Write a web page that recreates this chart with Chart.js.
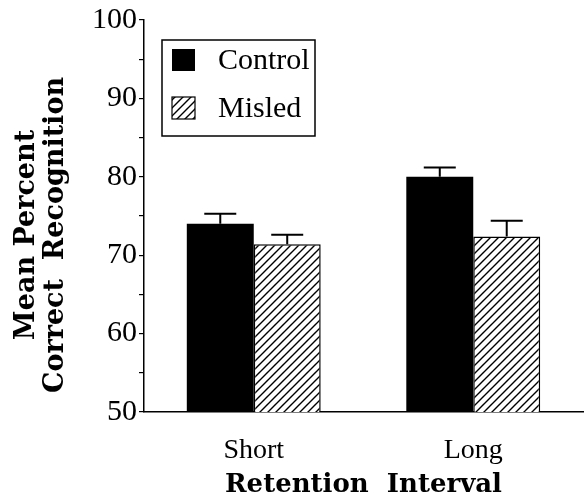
<!DOCTYPE html>
<html>
<head>
<meta charset="utf-8">
<script src="https://cdn.jsdelivr.net/npm/chart.js@4"></script>
<style>
  html, body { margin: 0; padding: 0; background: #fff; }
  #wrap { width: 585px; height: 500px; position: relative; }
</style>
</head>
<body>
<div id="wrap"><canvas id="chart"></canvas></div>
<script>
// data
const categories = ["Short", "Long"];
const controlMeans = [74.0, 80.0];
const controlErr = [1.3, 1.2];
const misledMeans = [71.4, 72.4];
const misledErr = [1.2, 2.0];
const yTicks = [50, 60, 70, 80, 90, 100];
const yTitleLines = ["Mean Percent", "Correct  Recognition"];

const serif = "'Liberation Serif', 'DejaVu Serif', serif";
const boldSerif = "'DejaVu Serif', serif";

// diagonal hatch for the misled bars
function makeHatch() {
    let c = document.createElement("canvas");
    c.width = 8; c.height = 8;
    let g = c.getContext("2d");
    g.fillStyle = "#fff";
    g.fillRect(0, 0, 8, 8);
    g.strokeStyle = "#000";
    g.lineWidth = 1.4;
    g.beginPath();
    g.moveTo(0, 8); g.lineTo(8, 0);
    g.moveTo(-2, 2); g.lineTo(2, -2);
    g.moveTo(6, 10); g.lineTo(10, 6);
    g.stroke();
    return g.createPattern(c, "repeat");
}
const hatch = makeHatch();

// upward error bars only
const errorBars = {
    id: "errorBars",
    afterDatasetsDraw(chart) {
        let ctx = chart.ctx;
        let yScale = chart.scales.y;
        let errs = [controlErr, misledErr];
        ctx.save();
        ctx.strokeStyle = "#000";
        ctx.lineWidth = 2;
        chart.data.datasets.forEach((ds, i) => {
            let meta = chart.getDatasetMeta(i);
            meta.data.forEach((bar, j) => {
                let top = yScale.getPixelForValue(ds.data[j] + errs[i][j]);
                ctx.beginPath();
                ctx.moveTo(bar.x, bar.y);
                ctx.lineTo(bar.x, top);
                ctx.moveTo(bar.x - 16, top);
                ctx.lineTo(bar.x + 16, top);
                ctx.stroke();
            });
        });
        ctx.restore();
    }
};

// boxed legend inside the plot
const boxLegend = {
    id: "boxLegend",
    afterDraw(chart) {
        let ctx = chart.ctx;
        ctx.save();
        ctx.strokeStyle = "#000";
        ctx.lineWidth = 1.5;
        ctx.strokeRect(162, 40, 153, 96);
        chart.data.datasets.forEach((ds, i) => {
            let y = 49 + i * 48;
            ctx.fillStyle = ds.backgroundColor;
            ctx.fillRect(172, y, 23, 22);
            if (i === 1) {
                ctx.lineWidth = 1.2;
                ctx.strokeRect(172, y, 23, 22);
            }
            ctx.fillStyle = "#000";
            ctx.font = "30px " + serif;
            ctx.textBaseline = "middle";
            ctx.fillText(ds.label, 218, y + 12);
        });
        ctx.restore();
    }
};

// two-line rotated y title, a bit below the plot centre like the original
const yTitle = {
    id: "yTitle",
    afterDraw(chart) {
        let ctx = chart.ctx;
        let area = chart.chartArea;
        let cy = (area.top + area.bottom) / 2 + 19;
        ctx.save();
        ctx.fillStyle = "#000";
        ctx.font = "bold 27px " + boldSerif;
        ctx.textAlign = "center";
        ctx.textBaseline = "middle";
        [27, 56].forEach((x, i) => {
            ctx.save();
            ctx.translate(x, cy);
            ctx.rotate(-Math.PI / 2);
            ctx.fillText(yTitleLines[i], 0, 0);
            ctx.restore();
        });
        ctx.restore();
    }
};

new Chart(document.getElementById("chart"), {
    type: "bar",
    data: {
        labels: categories,
        datasets: [
            {
                label: "Control",
                data: controlMeans,
                backgroundColor: "#000",
                borderWidth: 0
            },
            {
                label: "Misled",
                data: misledMeans,
                backgroundColor: hatch,
                borderColor: "#000",
                borderWidth: 1.5
            }
        ]
    },
    options: {
        responsive: true,
        maintainAspectRatio: false,
        animation: false,
        layout: { padding: { left: 0, right: 2, top: 18, bottom: 0 } },
        plugins: {
            legend: { display: false },
            tooltip: { enabled: false }
        },
        datasets: {
            bar: { categoryPercentage: 0.61, barPercentage: 1.0 }
        },
        scales: {
            x: {
                grid: { display: false },
                border: { color: "#000", width: 1.5 },
                ticks: { color: "#000", font: { family: serif, size: 28 }, padding: 14 },
                title: {
                    display: true,
                    text: "Retention  Interval",
                    color: "#000",
                    font: { family: boldSerif, size: 26, weight: "bold", lineHeight: 1.0 },
                    padding: { top: 0, bottom: 2 }
                },
                afterFit(scale) { scale.height = 88; }
            },
            y: {
                min: 50,
                max: 100,
                afterBuildTicks(scale) {
                    let t = [];
                    for (let v = 50; v <= 100; v += 5) t.push({ value: v });
                    scale.ticks = t;
                },
                grid: {
                    drawOnChartArea: false,
                    tickLength: 5,
                    color: "#000",
                    lineWidth: 1.2
                },
                border: { color: "#000", width: 1.5 },
                ticks: {
                    color: "#000",
                    padding: 2,
                    font: { family: serif, size: 30 },
                    callback: v => yTicks.includes(v) ? String(v) : ""
                },
                title: { display: false },
                afterFit(scale) { scale.width = 144; }
            }
        }
    },
    plugins: [errorBars, boxLegend, yTitle]
});
</script>
</body>
</html>
